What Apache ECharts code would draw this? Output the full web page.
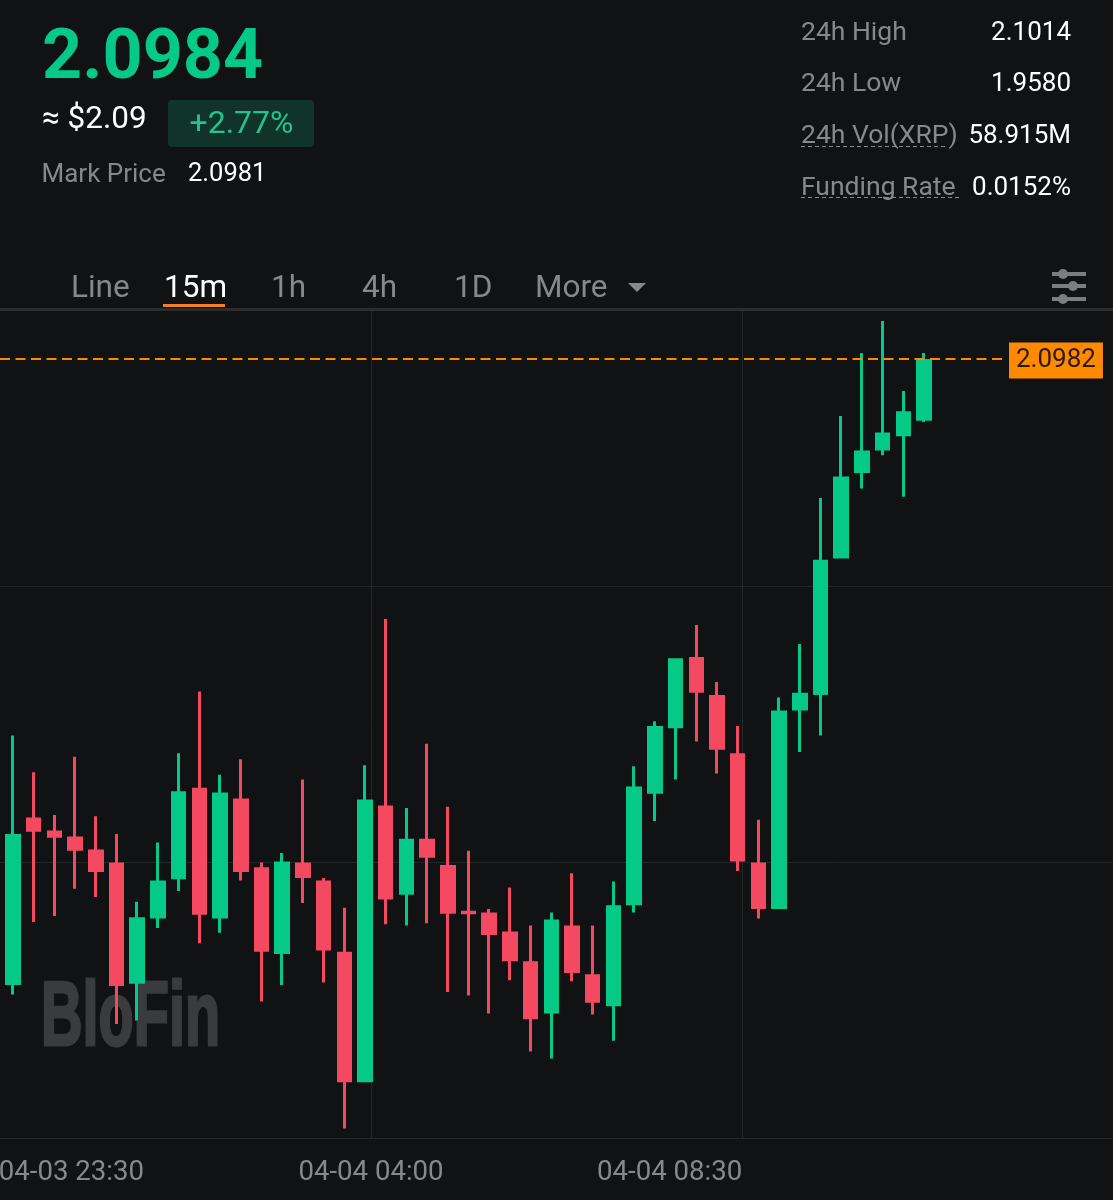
<!DOCTYPE html>
<html>
<head>
<meta charset="utf-8">
<title>XRP 15m</title>
<style>
  html, body { margin: 0; padding: 0; background: #111214; }
  #chart { width: 1113px; height: 1200px; }
</style>
<script src="https://cdn.jsdelivr.net/npm/echarts@6/dist/echarts.min.js"></script>
</head>
<body>
<div id="chart"></div>
<script>
// one bar per 15 minutes
const times = [
  '2025-04-03 23:45', '2025-04-04 00:00', '2025-04-04 00:15', '2025-04-04 00:30', '2025-04-04 00:45',
  '2025-04-04 01:00', '2025-04-04 01:15', '2025-04-04 01:30', '2025-04-04 01:45', '2025-04-04 02:00',
  '2025-04-04 02:15', '2025-04-04 02:30', '2025-04-04 02:45', '2025-04-04 03:00', '2025-04-04 03:15',
  '2025-04-04 03:30', '2025-04-04 03:45', '2025-04-04 04:00', '2025-04-04 04:15', '2025-04-04 04:30',
  '2025-04-04 04:45', '2025-04-04 05:00', '2025-04-04 05:15', '2025-04-04 05:30', '2025-04-04 05:45',
  '2025-04-04 06:00', '2025-04-04 06:15', '2025-04-04 06:30', '2025-04-04 06:45', '2025-04-04 07:00',
  '2025-04-04 07:15', '2025-04-04 07:30', '2025-04-04 07:45', '2025-04-04 08:00', '2025-04-04 08:15',
  '2025-04-04 08:30', '2025-04-04 08:45', '2025-04-04 09:00', '2025-04-04 09:15', '2025-04-04 09:30',
  '2025-04-04 09:45', '2025-04-04 10:00', '2025-04-04 10:15', '2025-04-04 10:30', '2025-04-04 10:45'
];
const opens = [
  2.0455, 2.0596, 2.0585, 2.0580, 2.0569, 2.0558, 2.0456, 2.0511, 2.0544, 2.0621,
  2.0511, 2.0612, 2.0554, 2.0481, 2.0558, 2.0543, 2.0483, 2.0373, 2.0606, 2.0531,
  2.0578, 2.0556, 2.0517, 2.0516, 2.0500, 2.0475, 2.0431, 2.0505, 2.0464, 2.0437,
  2.0522, 2.0616, 2.0671, 2.0731, 2.0699, 2.0650, 2.0558, 2.0519, 2.0686, 2.0699,
  2.0814, 2.0886, 2.0905, 2.0917, 2.0930
];
const closes = [
  2.0582, 2.0584, 2.0579, 2.0568, 2.0550, 2.0454, 2.0512, 2.0543, 2.0618, 2.0514,
  2.0617, 2.0550, 2.0483, 2.0559, 2.0545, 2.0484, 2.0373, 2.0611, 2.0527, 2.0578,
  2.0562, 2.0515, 2.0515, 2.0497, 2.0475, 2.0426, 2.0510, 2.0465, 2.0440, 2.0522,
  2.0622, 2.0673, 2.0730, 2.0701, 2.0653, 2.0559, 2.0519, 2.0686, 2.0701, 2.0813,
  2.0883, 2.0905, 2.0920, 2.0938, 2.0982
];
const lows = [
  2.0447, 2.0508, 2.0513, 2.0536, 2.0529, 2.0422, 2.0425, 2.0503, 2.0534, 2.0490,
  2.0499, 2.0543, 2.0441, 2.0455, 2.0524, 2.0457, 2.0334, 2.0373, 2.0506, 2.0505,
  2.0507, 2.0449, 2.0446, 2.0431, 2.0459, 2.0399, 2.0393, 2.0458, 2.0430, 2.0408,
  2.0516, 2.0593, 2.0628, 2.0660, 2.0633, 2.0551, 2.0511, 2.0519, 2.0651, 2.0665,
  2.0814, 2.0873, 2.0901, 2.0866, 2.0929
];
const highs = [
  2.0665, 2.0634, 2.0598, 2.0647, 2.0597, 2.0582, 2.0525, 2.0575, 2.0650, 2.0702,
  2.0632, 2.0645, 2.0558, 2.0566, 2.0628, 2.0545, 2.0520, 2.0640, 2.0763, 2.0604,
  2.0658, 2.0605, 2.0568, 2.0519, 2.0537, 2.0505, 2.0516, 2.0549, 2.0505, 2.0542,
  2.0639, 2.0677, 2.0730, 2.0758, 2.0710, 2.0673, 2.0594, 2.0697, 2.0742, 2.0865,
  2.0934, 2.0987, 2.1014, 2.0955, 2.0987
];

const lastPrice = 2.0982;
const gridPrices = [2.05582, 2.07903];
const tickTimes = ['2025-04-03 23:30', '2025-04-04 04:00', '2025-04-04 08:30'];
const tickLabels = ['04-03 23:30', '04-04 04:00', '04-04 08:30'];
const axisEnd = '2025-04-04 13:00';

const statNames = ['24h High', '24h Low', '24h Vol(XRP)', 'Funding Rate'];
const statValues = ['2.1014', '1.9580', '58.915M', '0.0152%'];
const tabNames = ['Line', '15m', '1h', '4h', '1D', 'More'];

const BG = '#111214';
const UP = '#05c986';
const DOWN = '#f54962';
const ORANGE = '#ff8a00';
const GREY = '#87888b';
const FONT = 'Roboto, sans-serif';

// candle pitch on screen, the last two numbers place the first candle
const msPerPx = 15 * 60000 / 20.705;
const candleMin = +new Date(times[0]) - 13 * msPerPx;
const candleMax = candleMin + 1113 * msPerPx;
const priceLineEnd = candleMin + 1003 * msPerPx;

const yMin = 2.03261;
const yMax = 2.10224;
const WICK = 3;
// the body outline grows the body by half the wick width, pull it back
const bodyInset = (WICK / 2) * (yMax - yMin) / 827;

function candleRow(i) {
  const o = opens[i];
  const c = closes[i];
  const step = Math.min(bodyInset, Math.abs(o - c) * 0.4) * (c >= o ? 1 : -1);
  return [times[i], o + step, c - step, lows[i], highs[i]];
}

function text(str, x, y, size, color, opts) {
  return {
    type: 'text',
    x: x,
    y: y,
    silent: true,
    style: Object.assign({
      text: str,
      fill: color,
      font: '400 ' + size + 'px ' + FONT,
      verticalAlign: 'middle',
      align: 'left'
    }, opts || {})
  };
}

function rule(x1, y1, x2, y2, color, width, dash) {
  return {
    type: 'line',
    silent: true,
    shape: { x1: x1, y1: y1, x2: x2, y2: y2 },
    style: { stroke: color, lineWidth: width, lineDash: dash || null }
  };
}

function buildHeader() {
  const els = [
    text('2.0984', 42, 60, 70, UP, { font: '700 70px ' + FONT }),
    text('≈ $2.09', 42, 120, 31.5, '#ffffff'),
    {
      type: 'rect',
      silent: true,
      shape: { x: 168, y: 100, width: 146, height: 47, r: 4 },
      style: { fill: '#10342a' }
    },
    text('+2.77%', 241.5, 125, 32, '#20c48c', { align: 'center' }),
    text('Mark Price', 41.5, 175, 26, GREY),
    text('2.0981', 188, 175, 25.5, '#ffffff')
  ];

  const statY = [33, 84, 136, 188];
  statNames.forEach((name, i) => {
    els.push(text(name, 801, statY[i], 26.5, GREY));
    els.push(text(statValues[i], 1071, statY[i], 26, '#ffffff', { align: 'right' }));
  });
  els.push(rule(801, 146.5, 945, 146.5, GREY, 1, [4, 3]));
  els.push(rule(801, 197.5, 961, 197.5, GREY, 1, [4, 3]));

  const tabX = [71, 164, 271, 362, 454, 535];
  tabNames.forEach((name, i) => {
    els.push(text(name, tabX[i], 289, 31.5, name === '15m' ? '#ffffff' : GREY));
  });
  els.push({
    type: 'polygon',
    silent: true,
    shape: { points: [[628, 283], [646, 283], [637, 292]] },
    style: { fill: GREY }
  });
  els.push(rule(163, 305.5, 225, 305.5, '#f08020', 3));
  els.push(rule(0, 309.5, 1113, 309.5, '#2b2c2e', 3));

  // settings sliders
  [[274, 1063], [286, 1073], [299, 1063]].forEach(p => {
    els.push(rule(1052, p[0], 1086, p[0], '#7c7d80', 4));
    els.push({
      type: 'circle',
      silent: true,
      shape: { cx: p[1], cy: p[0], r: 5 },
      style: { fill: '#7c7d80' }
    });
  });

  // watermark sits under the candles
  els.push({
    type: 'text',
    x: 41,
    y: 1020,
    scaleX: 0.64,
    z: -1,
    silent: true,
    style: {
      text: 'BloFin',
      fill: '#3a3b3e',
      stroke: '#3a3b3e',
      lineWidth: 3,
      font: '700 90px "Liberation Sans", sans-serif',
      verticalAlign: 'middle'
    }
  });
  return els;
}

const chart = echarts.init(document.getElementById('chart'));

chart.setOption({
  animation: false,
  backgroundColor: BG,
  textStyle: { fontFamily: FONT },
  graphic: { elements: buildHeader() },
  grid: { left: 0, right: 0, top: 311, bottom: 62, containLabel: false, outerBoundsMode: 'none' },
  xAxis: [
    {
      // carries the candles
      type: 'time',
      min: candleMin,
      max: candleMax,
      show: false
    },
    {
      // carries the date ticks and vertical grid lines
      type: 'value',
      position: 'bottom',
      min: +new Date(tickTimes[0]),
      max: +new Date(axisEnd),
      axisLine: { show: true, onZero: false, lineStyle: { color: '#26272a', width: 1 } },
      axisTick: { show: false, customValues: tickTimes.slice(1).map(t => +new Date(t)) },
      splitLine: { show: true, lineStyle: { color: '#26272a', width: 1 } },
      axisLabel: {
        show: true,
        customValues: tickTimes.map(t => +new Date(t)),
        hideOverlap: false,
        margin: 21,
        color: GREY,
        fontSize: 27.6,
        fontFamily: FONT,
        formatter: function (value) {
          const i = tickTimes.findIndex(t => +new Date(t) === value);
          const key = i === 0 ? 'first' : i === 2 ? 'last' : 'mid';
          return '{' + key + '|' + tickLabels[i] + '}';
        },
        rich: {
          first: { width: 288, align: 'right', color: GREY, fontSize: 27.6, fontFamily: FONT },
          mid: { color: GREY, fontSize: 27.6, fontFamily: FONT },
          last: { width: 290, align: 'left', color: GREY, fontSize: 27.6, fontFamily: FONT }
        }
      }
    }
  ],
  yAxis: {
    type: 'value',
    position: 'right',
    min: yMin,
    max: yMax,
    axisLine: { show: false },
    axisTick: { show: false, customValues: gridPrices },
    axisLabel: { show: false },
    splitLine: { show: true, lineStyle: { color: '#232427', width: 1 } }
  },
  series: [
    {
      type: 'candlestick',
      xAxisIndex: 0,
      barWidth: 13,
      encode: { x: 0, y: [1, 2, 3, 4] },
      itemStyle: {
        color: UP,
        color0: DOWN,
        borderColor: UP,
        borderColor0: DOWN,
        borderWidth: WICK
      },
      data: times.map((t, i) => candleRow(i)),
      markLine: {
        silent: true,
        symbol: 'none',
        animation: false,
        lineStyle: { color: ORANGE, type: [10, 5.5], width: 2 },
        label: {
          show: true,
          position: 'end',
          distance: 6,
          offset: [0, 1.5],
          formatter: lastPrice.toFixed(4),
          color: '#2b1a08',
          backgroundColor: ORANGE,
          fontSize: 26,
          fontFamily: FONT,
          padding: [5, 7, 5, 7]
        },
        data: [[
          { coord: [candleMin, lastPrice] },
          { coord: [priceLineEnd, lastPrice] }
        ]]
      }
    }
  ]
});
</script>
</body>
</html>
